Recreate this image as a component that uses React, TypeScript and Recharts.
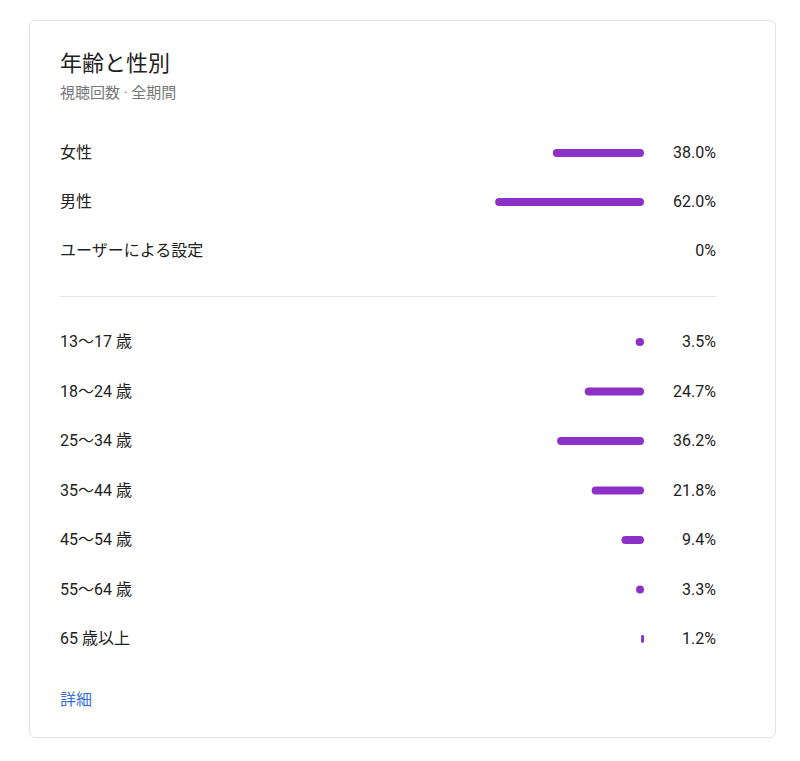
import React from "react";
import { BarChart, Bar, XAxis, YAxis } from "recharts";

const genderLabels = ["女性", "男性", "ユーザーによる設定"];
const genderValues = [38.0, 62.0, 0];
const genderText = ["38.0%", "62.0%", "0%"];

const ageLabels = ["13〜17 歳", "18〜24 歳", "25〜34 歳", "35〜44 歳", "45〜54 歳", "55〜64 歳", "65 歳以上"];
const ageValues = [3.5, 24.7, 36.2, 21.8, 9.4, 3.3, 1.2];
const ageText = ["3.5%", "24.7%", "36.2%", "21.8%", "9.4%", "3.3%", "1.2%"];

const FONT = "Roboto, 'Noto Sans CJK JP', 'Noto Sans', sans-serif";
const BAR = "#8c30c8";
const TEXT = "#212121";
const CHART_W = 656;

type Row = { label: string; value: number; text: string };

const build = (labels: string[], values: number[], texts: string[]): Row[] =>
  labels.map((l, i) => ({ label: l, value: values[i], text: texts[i] }));

const genderData = build(genderLabels, genderValues, genderText);
const ageData = build(ageLabels, ageValues, ageText);

function RowChart({ data, band }: { data: Row[]; band: number }) {
  const renderTick = (props: any) => {
    const { y, payload } = props;
    const row = data.find((d) => d.label === payload.value);
    return (
      <g>
        <text x={0} y={y} dominantBaseline="central" fontSize={16} fill={TEXT} fontFamily={FONT}>
          {payload.value}
        </text>
        <text x={CHART_W} y={y} dominantBaseline="central" textAnchor="end" fontSize={16} fill={TEXT} fontFamily={FONT}>
          {row ? row.text : ""}
        </text>
      </g>
    );
  };
  return (
    <BarChart
      width={CHART_W}
      height={band * data.length}
      data={data}
      layout="vertical"
      margin={{ top: 0, right: 72, bottom: 0, left: 0 }}
      barCategoryGap={0}
    >
      <XAxis type="number" domain={[0, 100]} reversed hide />
      <YAxis
        type="category"
        dataKey="label"
        width={344}
        axisLine={false}
        tickLine={false}
        tick={renderTick}
        interval={0}
      />
      <Bar dataKey="value" fill={BAR} barSize={8} radius={4} isAnimationActive={false} />
    </BarChart>
  );
}

export default function App() {
  return (
    <div style={{ position: "relative", width: 784, height: 745, fontFamily: FONT, background: "#fff" }}>
      <div
        style={{
          position: "absolute",
          left: 21,
          top: 12,
          width: 745,
          height: 716,
          border: "1px solid #e3e3e3",
          borderRadius: 6,
        }}
      />
      <div style={{ position: "absolute", left: 52, top: 45, fontSize: 22, lineHeight: "22px", color: TEXT }}>
        年齢と性別
      </div>
      <div style={{ position: "absolute", left: 52, top: 78, fontSize: 15, lineHeight: "15px", color: "#777" }}>
        視聴回数 · 全期間
      </div>
      <div style={{ position: "absolute", left: 52, top: 119.5 }}>
        <RowChart data={genderData} band={49} />
      </div>
      <div style={{ position: "absolute", left: 52, top: 288, width: 656, height: 1, background: "#e5e5e5" }} />
      <div style={{ position: "absolute", left: 52, top: 309.25 }}>
        <RowChart data={ageData} band={49.5} />
      </div>
      <div style={{ position: "absolute", left: 52, top: 684, fontSize: 16, lineHeight: "16px", color: "#3a6fd8" }}>
        詳細
      </div>
    </div>
  );
}
